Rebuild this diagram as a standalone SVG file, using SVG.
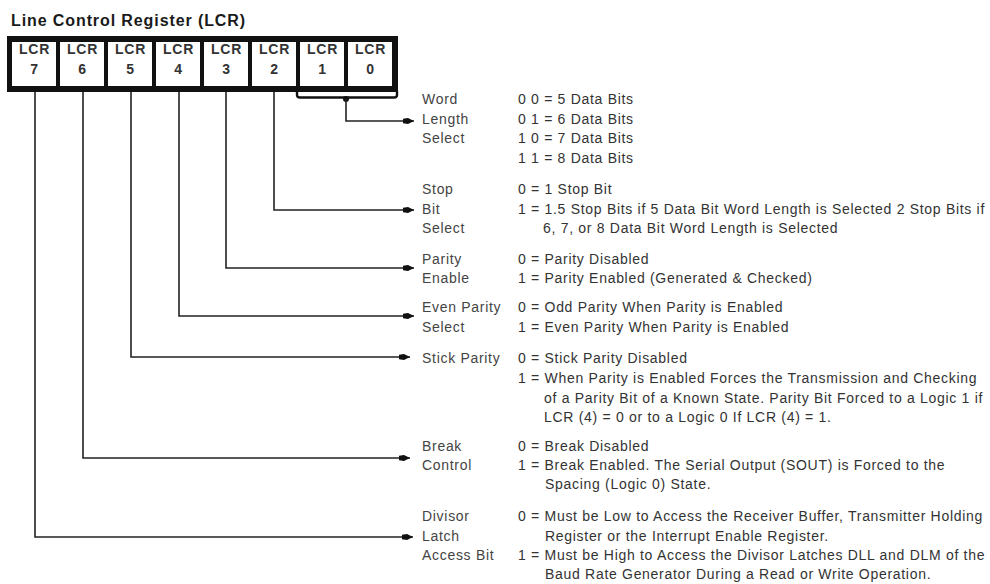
<svg xmlns="http://www.w3.org/2000/svg" width="990" height="584" viewBox="0 0 990 584">
<style>
.title{font-family:"Liberation Sans",Arial,sans-serif;font-size:16px;font-weight:bold;fill:#1a1a1a;letter-spacing:0.9px}
.cell{fill:#fff}
.ct{font-family:"Liberation Sans",Arial,sans-serif;font-size:14px;font-weight:bold;fill:#333;text-anchor:middle;letter-spacing:0.8px}
.lb{font-family:"Liberation Sans",Arial,sans-serif;font-size:14px;fill:#444;letter-spacing:0.7px}
.vl{font-family:"Liberation Sans",Arial,sans-serif;font-size:14px;fill:#333;letter-spacing:0.7px}
.wire{fill:none;stroke:#222;stroke-width:1.6}
</style>
<defs>
<marker id="ah" markerUnits="userSpaceOnUse" markerWidth="13" markerHeight="9" refX="11" refY="4.5" orient="auto">
<path d="M0,2.2 L5,1.5 L11,4.5 L5,7.5 L0,6.8 Z" fill="#111"/>
</marker>
</defs>

<text class="title" x="11" y="26">Line Control Register (LCR)</text>

<g id="register">
<rect x="7" y="36" width="391" height="56" fill="#111"/>
</g>
<g id="lcr7"><rect class="cell" x="12" y="42" width="44" height="44"/><text class="ct" x="34.5" y="54">LCR</text><text class="ct" x="34.5" y="74">7</text></g>
<g id="lcr6"><rect class="cell" x="60" y="42" width="44" height="44"/><text class="ct" x="82.5" y="54">LCR</text><text class="ct" x="82.5" y="74">6</text></g>
<g id="lcr5"><rect class="cell" x="108" y="42" width="44" height="44"/><text class="ct" x="130.5" y="54">LCR</text><text class="ct" x="130.5" y="74">5</text></g>
<g id="lcr4"><rect class="cell" x="156" y="42" width="44" height="44"/><text class="ct" x="178.5" y="54">LCR</text><text class="ct" x="178.5" y="74">4</text></g>
<g id="lcr3"><rect class="cell" x="204" y="42" width="44" height="44"/><text class="ct" x="226.5" y="54">LCR</text><text class="ct" x="226.5" y="74">3</text></g>
<g id="lcr2"><rect class="cell" x="252" y="42" width="44" height="44"/><text class="ct" x="274.5" y="54">LCR</text><text class="ct" x="274.5" y="74">2</text></g>
<g id="lcr1"><rect class="cell" x="300" y="42" width="44" height="44"/><text class="ct" x="322.5" y="54">LCR</text><text class="ct" x="322.5" y="74">1</text></g>
<g id="lcr0"><rect class="cell" x="348" y="42" width="44" height="44"/><text class="ct" x="370.5" y="54">LCR</text><text class="ct" x="370.5" y="74">0</text></g>

<g id="connectors">
<path d="M297,91 V95 Q297,97.5 300,97.5 H394 Q397,97.5 397,95 V91" fill="none" stroke="#111" stroke-width="2.4"/>
<circle cx="346" cy="99" r="3" fill="#111"/>
<path class="wire" d="M346,99 V121 H414" marker-end="url(#ah)"/>
<path class="wire" d="M274,92 V210 H414" marker-end="url(#ah)"/>
<path class="wire" d="M226,92 V268 H414" marker-end="url(#ah)"/>
<path class="wire" d="M179,92 V316 H414" marker-end="url(#ah)"/>
<path class="wire" d="M131,92 V357 H410" marker-end="url(#ah)"/>
<path class="wire" d="M83,92 V458 H410" marker-end="url(#ah)"/>
<path class="wire" d="M35,92 V537 H413" marker-end="url(#ah)"/>
</g>

<g id="word-length-select">
<text class="lb" x="422" y="104">Word</text>
<text class="lb" x="422" y="124">Length</text>
<text class="lb" x="422" y="143">Select</text>
<text class="vl" x="518" y="104">0 0 = 5 Data Bits</text>
<text class="vl" x="518" y="124">0 1 = 6 Data Bits</text>
<text class="vl" x="518" y="143">1 0 = 7 Data Bits</text>
<text class="vl" x="518" y="163">1 1 = 8 Data Bits</text>
</g>

<g id="stop-bit-select">
<text class="lb" x="422" y="194">Stop</text>
<text class="lb" x="422" y="214">Bit</text>
<text class="lb" x="422" y="233">Select</text>
<text class="vl" x="518" y="194">0 = 1 Stop Bit</text>
<text class="vl" x="518" y="214">1 = 1.5 Stop Bits if 5 Data Bit Word Length is Selected 2 Stop Bits if</text>
<text class="vl" x="543" y="233">6, 7, or 8 Data Bit Word Length is Selected</text>
</g>

<g id="parity-enable">
<text class="lb" x="422" y="264">Parity</text>
<text class="lb" x="422" y="283">Enable</text>
<text class="vl" x="518" y="264">0 = Parity Disabled</text>
<text class="vl" x="518" y="283">1 = Parity Enabled (Generated &amp; Checked)</text>
</g>

<g id="even-parity-select">
<text class="lb" x="422" y="312">Even Parity</text>
<text class="lb" x="422" y="332">Select</text>
<text class="vl" x="518" y="312">0 = Odd Parity When Parity is Enabled</text>
<text class="vl" x="518" y="332">1 = Even Parity When Parity is Enabled</text>
</g>

<g id="stick-parity">
<text class="lb" x="422" y="363">Stick Parity</text>
<text class="vl" x="518" y="363">0 = Stick Parity Disabled</text>
<text class="vl" x="518" y="383">1 = When Parity is Enabled Forces the Transmission and Checking</text>
<text class="vl" x="544" y="403">of a Parity Bit of a Known State. Parity Bit Forced to a Logic 1 if</text>
<text class="vl" x="544" y="422">LCR (4) = 0 or to a Logic 0 If LCR (4) = 1.</text>
</g>

<g id="break-control">
<text class="lb" x="422" y="451">Break</text>
<text class="lb" x="422" y="470">Control</text>
<text class="vl" x="518" y="451">0 = Break Disabled</text>
<text class="vl" x="518" y="470">1 = Break Enabled. The Serial Output (SOUT) is Forced to the</text>
<text class="vl" x="545" y="489">Spacing (Logic 0) State.</text>
</g>

<g id="divisor-latch-access-bit">
<text class="lb" x="422" y="521">Divisor</text>
<text class="lb" x="422" y="541">Latch</text>
<text class="lb" x="422" y="560">Access Bit</text>
<text class="vl" x="518" y="521">0 = Must be Low to Access the Receiver Buffer, Transmitter Holding</text>
<text class="vl" x="545" y="541">Register or the Interrupt Enable Register.</text>
<text class="vl" x="518" y="560">1 = Must be High to Access the Divisor Latches DLL and DLM of the</text>
<text class="vl" x="545" y="579">Baud Rate Generator During a Read or Write Operation.</text>
</g>
</svg>
